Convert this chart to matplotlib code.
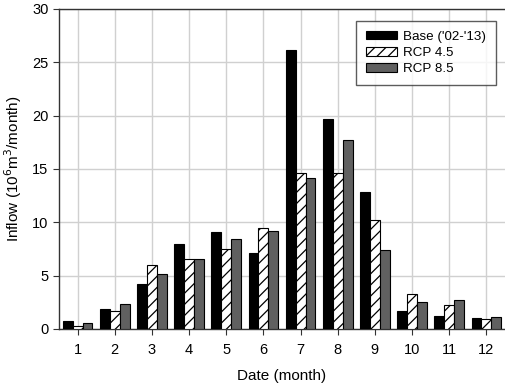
import numpy as np
import matplotlib.pyplot as plt

plt.rcParams['font.family'] = ['Liberation Sans', 'DejaVu Sans']
plt.rcParams['hatch.linewidth'] = 0.9

# monthly inflow (10^6 m^3/month)
months = np.arange(1, 13)
base = [0.78, 1.85, 4.19, 7.94, 9.06, 7.09, 26.2, 19.65, 12.81, 1.66, 1.22, 1.0]
rcp45 = [0.31, 1.72, 5.97, 6.59, 7.47, 9.47, 14.65, 14.65, 10.25, 3.25, 2.22, 0.94]
rcp85 = [0.53, 2.34, 5.13, 6.53, 8.47, 9.22, 14.18, 17.71, 7.38, 2.5, 2.72, 1.12]
labels = ["Base ('02-'13)", "RCP 4.5", "RCP 8.5"]

fig = plt.figure(figsize=(5.05, 3.85), dpi=100)
ax = fig.add_axes([59/505, 56/385, 446/505, 320/385])
ax.set_axisbelow(True)
ax.grid(True, color='#d0d0d0', linewidth=1.0)

w = 0.267
ax.bar(months - w, base, w, color='black', edgecolor='black', linewidth=0.8,
       label=labels[0], zorder=3)
ax.bar(months, rcp45, w, color='white', edgecolor='black', linewidth=0.8,
       hatch='///', label=labels[1], zorder=3)
ax.bar(months + w, rcp85, w, color='#606060', edgecolor='black', linewidth=0.8,
       label=labels[2], zorder=3)

ax.set_xlim(0.5, 12.5)
ax.set_ylim(0, 30)
ax.set_xticks(months)
ax.set_yticks(np.arange(0, 31, 5))
ax.spines['right'].set_visible(False)
for s in ['left', 'bottom', 'top']:
    ax.spines[s].set_color('#333333')
    ax.spines[s].set_linewidth(1.0)
ax.tick_params(labelsize=10.5, length=4, width=0.8, color='#333333')
ax.tick_params(axis='x', pad=6)

ax.set_xlabel('Date (month)', fontsize=11, labelpad=9)
ax.set_ylabel('Inflow (10$^6$m$^3$/month)', fontsize=11, labelpad=6)

leg = ax.legend(loc='upper right', bbox_to_anchor=((496 - 59) / 446, (329 - 21) / 320),
                fontsize=9.6, frameon=True, fancybox=False, edgecolor='#333333',
                handlelength=2.3, handleheight=0.65, borderpad=0.72, labelspacing=0.3,
                handletextpad=0.5, borderaxespad=0)
leg.get_frame().set_linewidth(1.0)

fig.savefig('out.png', dpi=100)
